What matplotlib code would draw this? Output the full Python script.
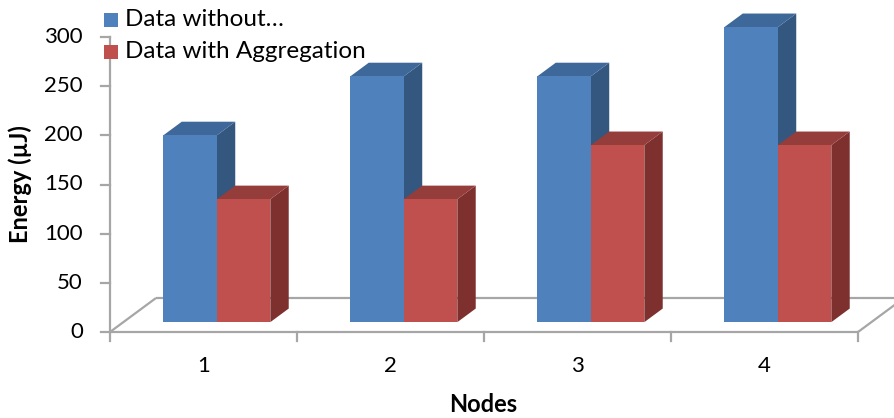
import matplotlib
matplotlib.use("Agg")
import matplotlib.pyplot as plt
from matplotlib.patches import Polygon, Rectangle

# ---- data -------------------------------------------------------------
nodes = ["1", "2", "3", "4"]
energy_without = [190, 250, 250, 300]
energy_with = [125, 125, 180, 180]
series_labels = ["Data without\u2026", "Data with Aggregation"]
y_ticks = [0, 50, 100, 150, 200, 250, 300]
y_label = "Energy (\u00b5J)"
x_label = "Nodes"

# ---- styling ----------------------------------------------------------
FONT = ["Lato", "DejaVu Sans"]
plt.rcParams["font.family"] = FONT

W_PX, H_PX, DPI = 894, 418, 100
colors = {
    "blue": ("#4F81BD", "#3E6899", "#34577F"),   # front, top, side
    "red": ("#C0504D", "#943D3B", "#7D302E"),
}
axis_gray = "#A6A6A6"

# layout of the plot box (pixels)
x_left_px, x_right_px = 110, 858          # front edge of the floor
y_zero_px, y_top_px = 332, 37             # value 0 and value 300 (from top)
depth_dx_px, depth_dy_px = 46, 34         # oblique depth vector
bar_w = 0.286                              # bar width in category units
d_front, d_back = 0.29, 0.69               # bar depth span (fraction of floor)

n = len(nodes)
px_per_cat = (x_right_px - x_left_px) / n
px_per_val = (y_zero_px - y_top_px) / y_ticks[-1]

x_min = 0.5 - x_left_px / px_per_cat
x_max = 0.5 + (W_PX - x_left_px) / px_per_cat
v_max = y_zero_px / px_per_val
v_min = -(H_PX - y_zero_px) / px_per_val

DX = depth_dx_px / px_per_cat
DY = depth_dy_px / px_per_val

fig = plt.figure(figsize=(W_PX / DPI, H_PX / DPI), dpi=DPI)
ax = fig.add_axes([0, 0, 1, 1])
ax.set_xlim(x_min, x_max)
ax.set_ylim(v_min, v_max)
ax.axis("off")


def proj(x, v, d):
    return (x + d * DX, v + d * DY)


lw = 1.6
# floor outline
x0f, x1f = 0.5, n + 0.5
for a, b in [((x0f, 0, 0), (x1f, 0, 0)), ((x0f, 0, 0), (x0f, 0, 1)),
             ((x0f, 0, 1), (x1f, 0, 1)), ((x1f, 0, 0), (x1f, 0, 1))]:
    p, q = proj(*a), proj(*b)
    ax.plot([p[0], q[0]], [p[1], q[1]], color=axis_gray, lw=lw,
            solid_capstyle="butt", zorder=1)

# value axis and its ticks
tick_x = 9 / px_per_cat
tick_v = 9 / px_per_val
ax.plot([0.5, 0.5], [0, y_ticks[-1]], color=axis_gray, lw=lw, zorder=1)
for t in y_ticks:
    ax.plot([0.5 - tick_x, 0.5], [t, t], color=axis_gray, lw=lw, zorder=1)
    ax.text(0.5 - 27 / px_per_cat, t, str(t), ha="right", va="center",
            fontsize=16, color="#000000")

# category ticks and labels
for i in range(n + 1):
    xt = 0.5 + i
    ax.plot([xt, xt], [0, -tick_v], color=axis_gray, lw=lw, zorder=1)
for i, lab in enumerate(nodes):
    ax.text(i + 1, -34 / px_per_val, lab, ha="center", va="center",
            fontsize=16, color="#000000")


def draw_bar(xl, value, cols, z):
    front, top, side = cols
    xr = xl + bar_w
    ax.add_patch(Polygon([proj(xr, 0, d_front), proj(xr, value, d_front),
                          proj(xr, value, d_back), proj(xr, 0, d_back)],
                         closed=True, facecolor=side, edgecolor="none", zorder=z))
    ax.add_patch(Polygon([proj(xl, value, d_front), proj(xr, value, d_front),
                          proj(xr, value, d_back), proj(xl, value, d_back)],
                         closed=True, facecolor=top, edgecolor="none", zorder=z))
    ax.add_patch(Polygon([proj(xl, 0, d_front), proj(xr, 0, d_front),
                          proj(xr, value, d_front), proj(xl, value, d_front)],
                         closed=True, facecolor=front, edgecolor="none", zorder=z))


for i in range(n):
    c = i + 1
    draw_bar(c - bar_w, energy_without[i], colors["blue"], 3 + 2 * i)
    draw_bar(c, energy_with[i], colors["red"], 4 + 2 * i)

# axis titles
ax.text(x_min + 20 / px_per_cat, v_max - 184 / px_per_val, y_label,
        rotation=90, ha="center", va="center", fontsize=17,
        fontweight="bold", color="#000000")
ax.text(x_min + 483 / px_per_cat, v_max - 404 / px_per_val, x_label,
        ha="center", va="center", fontsize=17, fontweight="bold",
        color="#000000")

# legend (top left)
sq = 14
for k, (lab, key) in enumerate(zip(series_labels, ["blue", "red"])):
    cy = 20 + 32 * k
    ax.add_patch(Rectangle((x_min + 104 / px_per_cat, v_max - (cy + sq / 2) / px_per_val),
                           sq / px_per_cat, sq / px_per_val,
                           facecolor=colors[key][0], edgecolor="none", zorder=20))
    ax.text(x_min + 125 / px_per_cat, v_max - cy / px_per_val, lab,
            ha="left", va="center", fontsize=17.5, color="#000000", zorder=20)

fig.savefig("out.png", dpi=DPI, facecolor="white")
